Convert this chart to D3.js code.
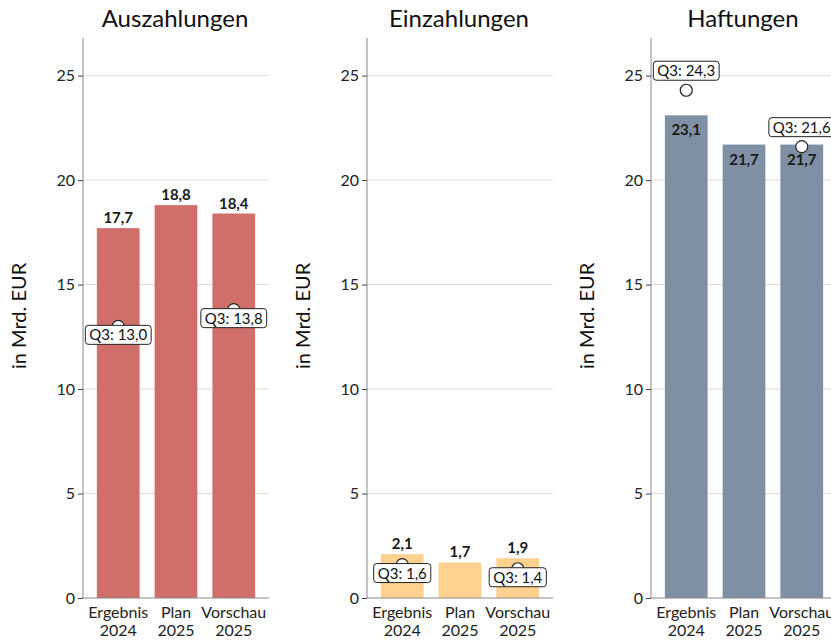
<!DOCTYPE html>
<html>
<head>
<meta charset="utf-8">
<script src="https://cdn.jsdelivr.net/npm/d3@7"></script>
<style>
  body { margin: 0; background: #fff; }
  svg { font-family: Lato, 'Open Sans', sans-serif; }
</style>
</head>
<body>
<svg id="chart" width="831" height="641"></svg>
<script>
const categories = ['Ergebnis 2024', 'Plan 2025', 'Vorschau 2025']
const titles = ['Auszahlungen', 'Einzahlungen', 'Haftungen']
const auszahlungen = [17.7, 18.8, 18.4]
const einzahlungen = [2.1, 1.7, 1.9]
const haftungen = [23.1, 21.7, 21.7]
const q3Auszahlungen = [13.0, null, 13.8]
const q3Einzahlungen = [1.6, null, 1.4]
const q3Haftungen = [24.3, null, 21.6]
const yTicks = [0, 5, 10, 15, 20, 25]

const colors = ['#cd6661', '#fecf89', '#788a9f']

const de = d3.formatLocale({ decimal: ',', thousands: '.', grouping: [3], currency: ['', ' €'] })
const fmt = de.format('.1f')

const svg = d3.select('#chart')
const panelLeft = [83, 367, 651]
const panelWidth = 186

const y = d3.scaleLinear().domain([0, 26.8]).range([598, 38])

const panels = [
  { title: titles[0], values: auszahlungen, q3: q3Auszahlungen, color: colors[0], inside: false },
  { title: titles[1], values: einzahlungen, q3: q3Einzahlungen, color: colors[1], inside: false },
  { title: titles[2], values: haftungen, q3: q3Haftungen, color: colors[2], inside: true }
]

panels.forEach((p, i) => {
  const x0 = panelLeft[i]
  const x = d3.scaleBand().domain(categories).range([x0, x0 + panelWidth]).paddingInner(0.26).paddingOuter(0.24)
  const g = svg.append('g')

  // grid
  g.selectAll('.grid')
    .data(yTicks.filter(t => t > 0))
    .enter()
    .append('line')
    .attr('x1', x0).attr('x2', x0 + panelWidth)
    .attr('y1', d => y(d)).attr('y2', d => y(d))
    .attr('stroke', '#dcdcdc')
    .attr('stroke-width', 1)

  // bars
  g.selectAll('.bar')
    .data(p.values)
    .enter()
    .append('rect')
    .attr('x', (d, j) => x(categories[j]))
    .attr('width', x.bandwidth())
    .attr('y', d => y(d))
    .attr('height', d => y(0) - y(d))
    .attr('fill', p.color)
    .attr('opacity', 0.95)

  // value labels
  g.selectAll('.val')
    .data(p.values)
    .enter()
    .append('text')
    .attr('x', (d, j) => x(categories[j]) + x.bandwidth() / 2)
    .attr('y', d => p.inside ? y(d) + 20 : y(d) - 5)
    .attr('text-anchor', 'middle')
    .attr('font-size', 15)
    .attr('font-weight', 'bold')
    .attr('fill', '#1a1a1a')
    .text(d => fmt(d))

  // y axis
  const yAxis = d3.axisLeft(y).tickValues(yTicks).tickSize(5).tickPadding(3).tickFormat(d3.format('d'))
  const ag = g.append('g').attr('transform', `translate(${x0},0)`).call(yAxis)
  ag.select('.domain').attr('stroke', '#888').attr('d', `M0,${y.range()[1]}V${y(0)}`)
  ag.selectAll('.tick line').attr('stroke', '#444')
  ag.selectAll('.tick text').attr('font-size', 16).attr('fill', '#222').attr('font-family', 'Lato, sans-serif')

  // baseline
  g.append('line')
    .attr('x1', x0).attr('x2', x0 + panelWidth)
    .attr('y1', y(0)).attr('y2', y(0))
    .attr('stroke', '#888')

  // x labels
  categories.forEach(c => {
    const parts = c.split(' ')
    const t = g.append('text')
      .attr('x', x(c) + x.bandwidth() / 2)
      .attr('y', 618)
      .attr('text-anchor', 'middle')
      .attr('font-size', 16)
      .attr('fill', '#222')
    parts.forEach((s, k) => {
      t.append('tspan').attr('x', x(c) + x.bandwidth() / 2).attr('dy', k === 0 ? 0 : 18).text(s)
    })
  })

  // title
  g.append('text')
    .attr('x', x0 + panelWidth / 2 - 1)
    .attr('y', 27)
    .attr('text-anchor', 'middle')
    .attr('font-size', 24)
    .attr('fill', '#111')
    .text(p.title)

  // y label
  g.append('text')
    .attr('transform', `translate(${x0 - 57},${y(13.5)}) rotate(-90)`)
    .attr('text-anchor', 'middle')
    .attr('font-size', 20)
    .attr('fill', '#111')
    .text('in Mrd. EUR')

  // Q3 markers
  p.q3.forEach((q, j) => {
    if (q === null) return
    const cx = x(categories[j]) + x.bandwidth() / 2
    const cy = y(q)
    g.append('circle')
      .attr('cx', cx).attr('cy', cy).attr('r', 6)
      .attr('fill', '#fff').attr('stroke', '#222').attr('stroke-width', 1.2)
    const label = 'Q3: ' + fmt(q)
    const lt = g.append('text')
      .attr('text-anchor', 'middle')
      .attr('font-size', 15)
      .attr('fill', '#111')
      .text(label)
    const w = lt.node().getComputedTextLength() + 8
    const h = 19
    const top = p.inside ? cy - 10 - h : cy - 1
    g.insert('rect', () => lt.node())
      .attr('x', cx - w / 2).attr('y', top)
      .attr('width', w).attr('height', h)
      .attr('rx', 3)
      .attr('fill', '#fff').attr('stroke', '#222').attr('stroke-width', 1)
    lt.attr('x', cx).attr('y', top + 15)
  })
})
</script>
</body>
</html>
